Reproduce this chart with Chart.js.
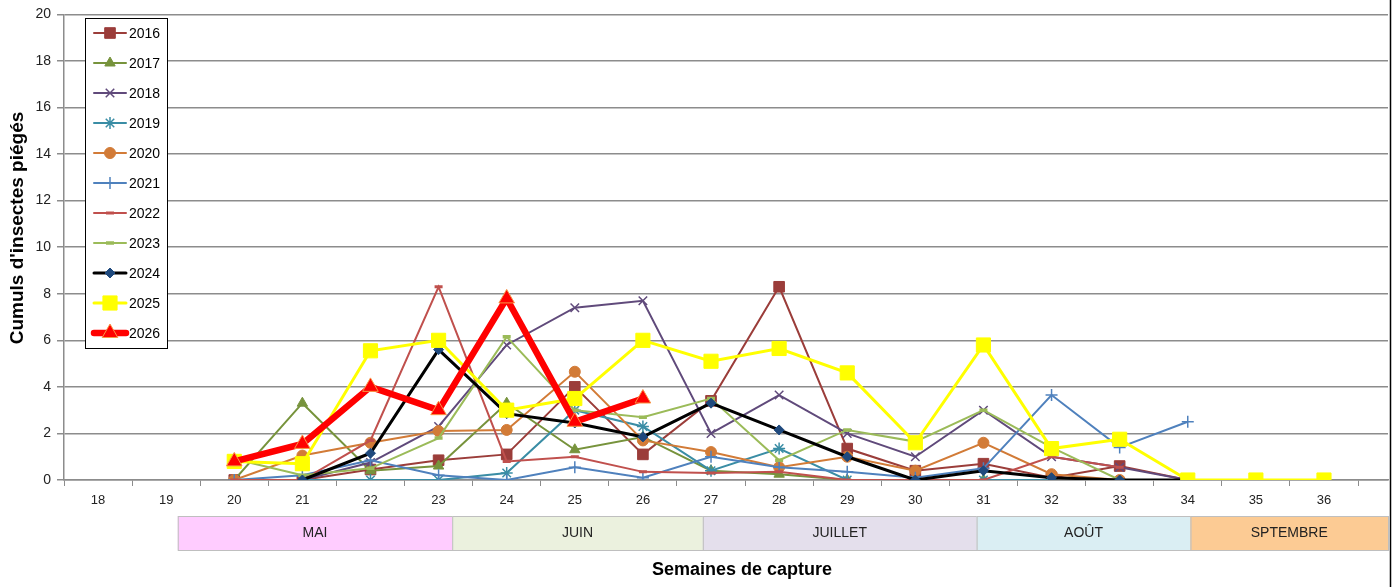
<!DOCTYPE html>
<html>
<head>
<meta charset="utf-8">
<script src="https://cdn.jsdelivr.net/npm/chart.js@4/dist/chart.umd.min.js"></script>
<style>
html, body { margin:0; padding:0; background:#fff; }
</style>
</head>
<body>
<canvas id="chart1" width="1399" height="587"></canvas>
<script>
// semaines 20 -> 36
let weeks = [20,21,22,23,24,25,26,27,28,29,30,31,32,33,34,35,36]
let years = ['2016','2017','2018','2019','2020','2021','2022','2023','2024','2025','2026']

let s2016 = [0, 0, 0.45, 0.85, 1.1, 4.0, 1.1, 3.4, 8.3, 1.35, 0.4, 0.7, 0.1, 0.6, 0, null, null]
let s2017 = [0, 3.3, 0.4, 0.6, 3.3, 1.3, 1.85, 0.4, 0.25, 0, 0, 0, 0, null, null, null, null]
let s2018 = [0, 0, 0.75, 2.3, 5.8, 7.4, 7.7, 2.0, 3.65, 2.0, 1.0, 3.0, 1.0, 0.55, 0, null, null]
let s2019 = [0, 0, 0, 0, 0.3, 3.0, 2.3, 0.4, 1.35, 0, 0, 0, 0, null, null, null, null]
let s2020 = [0, 1.05, 1.6, 2.1, 2.15, 4.65, 1.7, 1.2, 0.55, 1.0, 0.4, 1.6, 0.25, 0, null, null, null]
let s2021 = [0, 0.2, 0.85, 0.2, 0, 0.55, 0.1, 1.0, 0.55, 0.35, 0.1, 0.5, 3.65, 1.4, 2.5, null, null]
let s2022 = [0, 0, 1.7, 8.3, 0.8, 1.0, 0.35, 0.3, 0.35, 0, 0, 0, 1.0, 0.55, null, null, null]
let s2023 = [0.9, 0.2, 0.5, 1.8, 6.15, 3.0, 2.7, 3.5, 0.85, 2.15, 1.65, 3.0, 1.4, 0, null, null, null]
let s2024 = [null, 0, 1.15, 5.6, 2.85, 2.45, 1.85, 3.3, 2.15, 1.0, 0, 0.4, 0.1, 0, 0, null, null]
let s2025 = [0.8, 0.7, 5.55, 6.0, 3.0, 3.5, 6.0, 5.1, 5.65, 4.6, 1.6, 5.8, 1.35, 1.75, 0, 0, 0]
let s2026 = [0.8, 1.55, 4.0, 3.0, 7.8, 2.5, 3.5, null, null, null, null, null, null, null, null, null, null]

let xLabels = ['18','19','20','21','22','23','24','25','26','27','28','29','30','31','32','33','34','35','36']

// bandeau des mois (en semaines)
let monthNames = ['MAI','JUIN','JUILLET','AOÛT','SPTEMBRE']
let monthStart = [19.17, 23.2, 26.88, 30.9, 34.04]
let monthEnd = [23.2, 26.88, 30.9, 34.04, 36.94]
let monthColors = ['#FFCCFF','#EBF1DE','#E4DFEC','#DAEEF3','#FCCB94']

let allSeries = [s2016, s2017, s2018, s2019, s2020, s2021, s2022, s2023, s2024, s2025, s2026]

let styles = [
    {color:'#9B3D3A', pt:'rect', r:7.5, w:2, fill:'#9B3D3A', bc:'#9B3D3A', bw:1},
    {color:'#77933C', pt:'triangle', r:6, w:2, fill:'#77933C', bc:'#77933C', bw:1},
    {color:'#604A7B', pt:'crossRot', r:6, w:2, fill:'#604A7B', bc:'#604A7B', bw:1.5},
    {color:'#3A8DA5', pt:'star', r:6, w:2, fill:'#3A8DA5', bc:'#3A8DA5', bw:1.5},
    {color:'#D27B37', pt:'circle', r:5.5, w:2, fill:'#D27B37', bc:'#D27B37', bw:1},
    {color:'#4F81BD', pt:'cross', r:6, w:2, fill:'#4F81BD', bc:'#4F81BD', bw:1.5},
    {color:'#C0504D', pt:'line', r:4, w:2, fill:'#C0504D', bc:'#C0504D', bw:3},
    {color:'#9BBB59', pt:'line', r:4, w:2, fill:'#9BBB59', bc:'#9BBB59', bw:3.5},
    {color:'#000000', pt:'rectRot', r:5, w:3, fill:'#1F497D', bc:'#1F497D', bw:1},
    {color:'#FFFF00', pt:'rect', r:10, w:3, fill:'#FFFF00', bc:'#FFFF00', bw:1},
    {color:'#FF0000', pt:'triangle', r:9, w:6.5, fill:'#FF0000', bc:'#F79646', bw:1}
]

let datasets = []
for (var i = 0; i < years.length; i++){
    let st = styles[i]
    datasets.push({
        label: years[i],
        data: allSeries[i].map(function(v, k){ return {x: weeks[k], y: v} }),
        borderColor: st.color,
        borderWidth: st.w,
        pointStyle: st.pt,
        pointRadius: st.r,
        pointHoverRadius: st.r,
        pointBackgroundColor: st.fill,
        pointBorderColor: st.bc,
        pointBorderWidth: st.bw,
        tension: 0,
        spanGaps: false,
        order: years.length - i,
    })
}

let extras = {
    id: 'extras',
    afterDraw(chart){
        let ctx = chart.ctx
        let xs = chart.scales.x
        ctx.save()
        // mois
        for (var m = 0; m < monthNames.length; m++){
            let x0 = xs.getPixelForValue(monthStart[m])
            let x1 = xs.getPixelForValue(monthEnd[m])
            ctx.fillStyle = monthColors[m]
            ctx.fillRect(x0, 516, x1 - x0, 34)
            ctx.strokeStyle = '#BFBFBF'
            ctx.lineWidth = 1
            ctx.strokeRect(x0 + 0.5, 516.5, x1 - x0, 34)
            ctx.fillStyle = '#222'
            ctx.font = '14px "Liberation Sans", Arial, sans-serif'
            ctx.textAlign = 'center'
            ctx.textBaseline = 'middle'
            ctx.fillText(monthNames[m], (x0 + x1) / 2, 533)
        }
        // titres
        ctx.fillStyle = '#000'
        ctx.font = 'bold 18px "Liberation Sans", Arial, sans-serif'
        ctx.textAlign = 'center'
        ctx.textBaseline = 'middle'
        ctx.fillText('Semaines de capture', 742, 570)
        ctx.save()
        ctx.translate(18, 228)
        ctx.rotate(-Math.PI / 2)
        ctx.font = 'bold 19px "Liberation Sans", Arial, sans-serif'
        ctx.fillText("Cumuls d'insectes piégés", 0, 0)
        ctx.restore()
        // bord droit
        ctx.strokeStyle = '#000'
        ctx.lineWidth = 1.5
        ctx.beginPath()
        ctx.moveTo(1390.5, 0)
        ctx.lineTo(1390.5, 587)
        ctx.stroke()
        // legende
        ctx.fillStyle = '#fff'
        ctx.fillRect(85, 18, 82, 330)
        ctx.strokeStyle = '#000'
        ctx.lineWidth = 1
        ctx.strokeRect(85.5, 18.5, 82, 330)
        for (var i = 0; i < chart.data.datasets.length; i++){
            let ds = chart.data.datasets[i]
            let y = 33 + i * 30
            ctx.strokeStyle = ds.borderColor
            ctx.lineWidth = ds.borderWidth
            ctx.lineCap = 'round'
            ctx.beginPath()
            ctx.moveTo(94, y)
            ctx.lineTo(126, y)
            ctx.stroke()
            ctx.lineCap = 'butt'
            ctx.fillStyle = ds.pointBackgroundColor
            ctx.strokeStyle = ds.pointBorderColor
            ctx.lineWidth = ds.pointBorderWidth
            if (Chart.helpers && Chart.helpers.drawPoint){
                Chart.helpers.drawPoint(ctx, {pointStyle: ds.pointStyle, radius: ds.pointRadius, rotation: 0, borderWidth: ds.pointBorderWidth}, 110, y)
            } else {
                ctx.fillRect(105, y - 5, 10, 10)
            }
            ctx.fillStyle = '#000'
            ctx.font = '14px "Liberation Sans", Arial, sans-serif'
            ctx.textAlign = 'left'
            ctx.textBaseline = 'middle'
            ctx.fillText(ds.label, 129, y + 1)
        }
        ctx.restore()
    }
}

let chart1 = document.getElementById('chart1').getContext('2d')

let captures = new Chart(chart1, {
    type: 'line',
    data: { datasets: datasets },
    plugins: [extras],
    options: {
        responsive: false,
        animation: false,
        layout: { padding: { top: 2, right: 9, left: 0, bottom: 0 } },
        plugins: {
            legend: { display: false },
            tooltip: { enabled: false },
        },
        scales: {
            x: {
                type: 'linear',
                min: 17.5,
                max: 36.94,
                afterFit: function(s){ s.height = 107 },
                afterBuildTicks: function(s){
                    let t = []
                    for (var v = 17.5; v <= 36.94; v += 0.5) t.push({value: v})
                    s.ticks = t
                },
                ticks: {
                    autoSkip: false,
                    maxRotation: 0,
                    padding: 7,
                    color: '#222',
                    font: { size: 13, family: '"Liberation Sans", Arial, sans-serif' },
                    callback: function(v){
                        let k = v - 18
                        return Number.isInteger(v) && xLabels[k] ? xLabels[k] : ''
                    }
                },
                grid: {
                    drawOnChartArea: false,
                    tickLength: 6,
                    tickColor: function(c){ return (c.tick && Number.isInteger(c.tick.value)) ? 'rgba(0,0,0,0)' : '#8C8C8C' },
                },
                border: { color: '#8C8C8C', width: 1.5 },
            },
            y: {
                min: 0,
                max: 20,
                afterFit: function(s){ s.width = 64 },
                ticks: {
                    stepSize: 2,
                    padding: 6,
                    color: '#222',
                    font: { size: 14, family: '"Liberation Sans", Arial, sans-serif' },
                },
                grid: { color: '#8C8C8C', lineWidth: 1.5, tickLength: 7 },
                border: { color: '#8C8C8C', width: 1.5 },
            },
        },
    },
});
</script>
</body>
</html>
